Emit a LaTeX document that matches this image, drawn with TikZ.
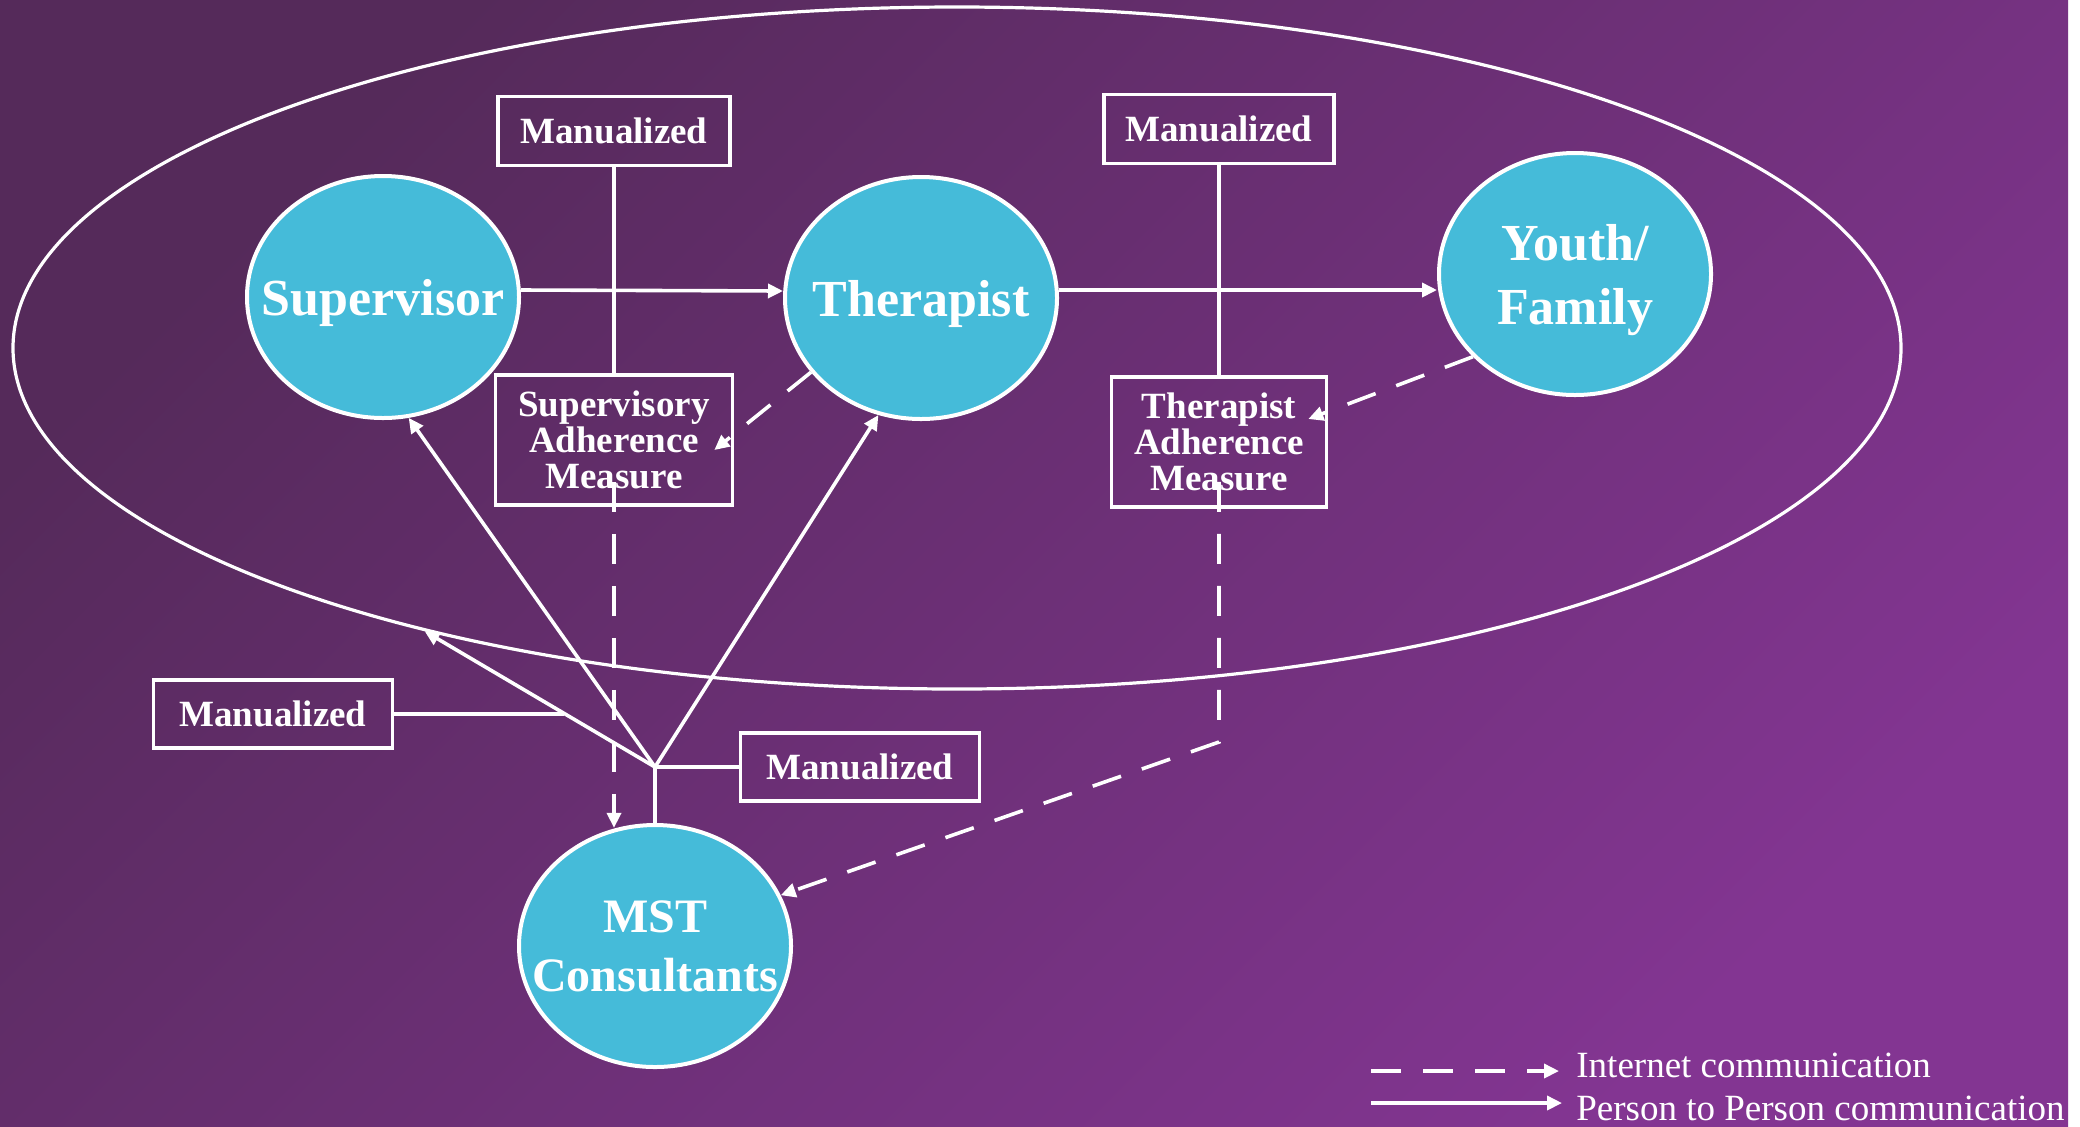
\documentclass[tikz,border=0pt]{standalone}
\usepackage{fontspec}
\setmainfont{Liberation Serif}
\usetikzlibrary{shapes.geometric,arrows.meta,calc}

\definecolor{plumdark}{RGB}{85,42,90}
\definecolor{plumlight}{RGB}{131,53,146}
\definecolor{skyfill}{RGB}{69,187,217}

\begin{document}
\begin{tikzpicture}[x=0.5pt, y=-0.5pt]
  \tikzstyle{person}=[ellipse, draw=white, line width=2pt, fill=skyfill, text=white, align=center,
    inner xsep=-100pt, inner ysep=0pt, text depth=0pt, minimum width=136pt, minimum height=121pt,
    font=\bfseries\fontsize{26}{32}\selectfont]
  \tikzstyle{tool}=[rectangle, draw=white, line width=1.8pt, text=white, align=center, inner sep=2pt,
    font=\bfseries\fontsize{18.5}{18}\selectfont]
  \tikzstyle{talk}=[white, line width=1.8pt, -{Triangle[length=7.5pt,width=7pt]}]
  \tikzstyle{web}=[talk, dash pattern=on 15pt off 11pt]
  \tikzstyle{link}=[white, line width=1.8pt]
  \tikzstyle{key}=[text=white, inner sep=0pt, anchor=base west, font=\fontsize{18.5}{20}\selectfont]

  \useasboundingbox (0,0) rectangle (2080,1126);
  \fill[white] (0,0) rectangle (2080,1126);
  \shade[top color=plumdark, bottom color=plumlight, shading angle=45] (0,0) rectangle (2068,1126);

  % the team
  \node[ellipse, draw=white, line width=1.6pt, inner sep=0pt,
        minimum width=944pt, minimum height=341pt] (team) at (957,348) {};

  \node[person] (sup)   at (383,297)  {Supervisor};
  \node[person] (ther)  at (921,298)  {Therapist};
  \node[person] (youth) at (1575,274) {Youth/\\Family};
  \node[person, font=\bfseries\fontsize{24}{29.5}\selectfont] (mst) at (655,946) {MST\\Consultants};

  \node[tool, minimum width=116pt, minimum height=34.5pt]  (man1) at (614,131)  {Manualized};
  \node[tool, minimum width=115pt, minimum height=34.5pt]  (man2) at (1219,129) {Manualized};
  \node[tool, minimum width=118.5pt, minimum height=65pt]  (sam)  at (614,440)  {Supervisory\\Adherence\\Measure};
  \node[tool, minimum width=107.5pt, minimum height=65pt]  (tam)  at (1219,442) {Therapist\\Adherence\\Measure};
  \node[tool, minimum width=119.5pt, minimum height=34pt]  (manL) at (273,714)  {Manualized};
  \node[tool, minimum width=119.5pt, minimum height=34pt]  (manR) at (860,767)  {Manualized};

  \coordinate (j)    at (655,767);
  \coordinate (bend) at (1219,742);

  % person to person
  \draw[talk] ([yshift=3.5pt]sup.east) -- ([yshift=3.5pt]ther.west);
  \draw[talk] ([yshift=4pt]ther.east) -- ([yshift=4pt]ther.east -| youth.west);
  \draw[link] (man1.south) -- (sam.north);
  \draw[link] (man2.south) -- (tam.north);

  \draw[link] (mst.north) -- (j);
  \draw[talk] (j) -- (sup.-78);
  \draw[talk] (j) -- (ther.-110);
  \draw[talk] (j) -- (team.-152);
  \draw[link] (j) -- (manR.west);
  \path (j) -- (team.-152) coordinate[pos=0.396] (k);
  \draw[link] (manL.east) -- (manL.east -| k);

  % internet
  \draw[web] (ther.-146) -- ($(sam.east)+(-20,10)$);
  \draw[web] (youth.-141) -- ($(tam.east)+(-20,-23)$);
  \draw[web] ($(sam.south)+(0,-25)$) -- (sam.south |- mst.108);
  \draw[web] ($(tam.south)+(0,-27)$) -- (bend) -- (mst.22);

  % legend
  \node[key] (lint) at (1576,1077) {Internet communication};
  \node[key] (lper) at (1576,1120) {Person to Person communication};
  \coordinate (idash) at (1371,1071);
  \coordinate (pline) at (1371,1103);
  \draw[web, shorten >=8.5pt] (idash) -- (idash -| lint.west);
  \draw[talk, shorten >=7pt] (pline) -- (pline -| lper.west);
\end{tikzpicture}
\end{document}
